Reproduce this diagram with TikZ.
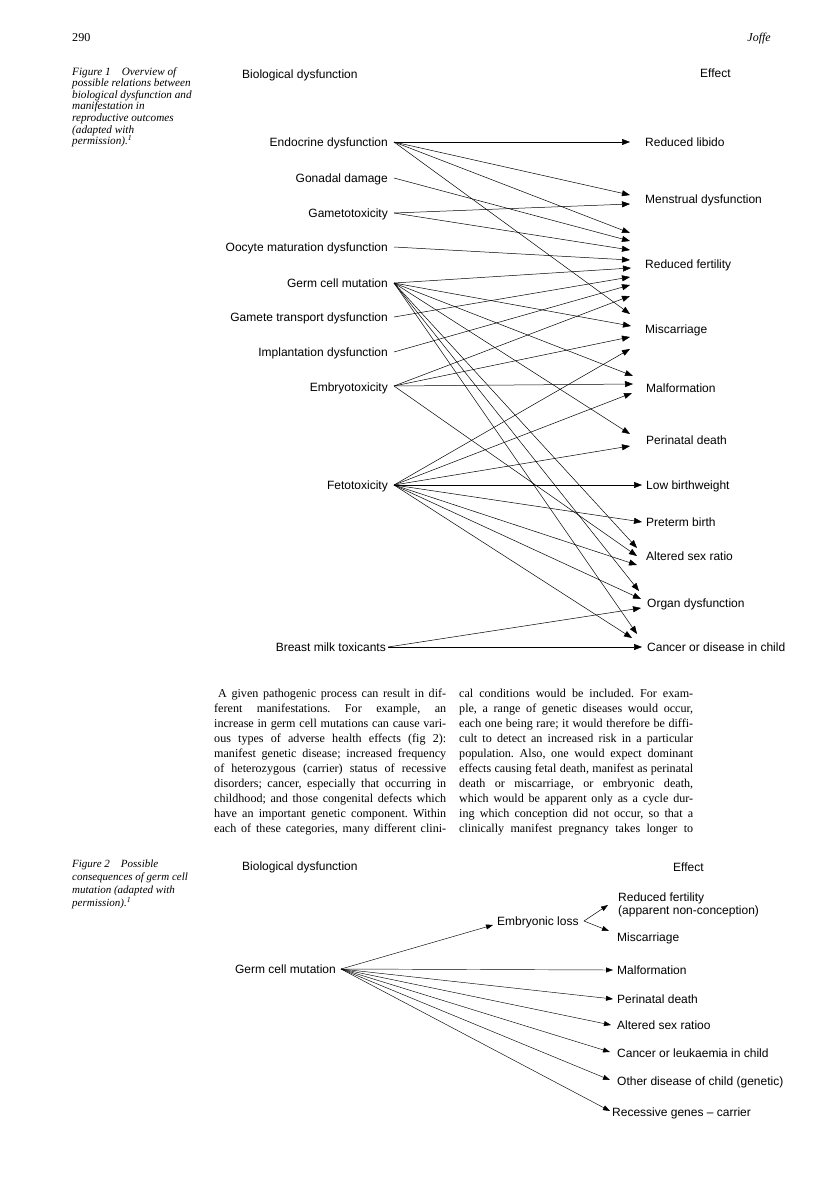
\documentclass[tikz,border=0pt]{standalone}
\usepackage{fontspec}
\setmainfont{Liberation Serif}
\newfontfamily\labfont{Liberation Sans}
\usetikzlibrary{arrows.meta}
\frenchspacing
\begin{document}
\begin{tikzpicture}[x=1pt,y=-1pt,
  lbl/.style={font=\labfont\fontsize{12}{14}\selectfont, inner sep=0pt},
  src/.style={lbl, anchor=base east},
  tgt/.style={lbl, anchor=base west},
  hdr/.style={lbl, anchor=base west},
  arr/.style={line width=0.5pt, -{Triangle[length=8pt,width=6pt]}},
  arrb/.style={line width=0.45pt, -{Triangle[length=7pt,width=5pt]}},
  body/.style={font=\fontsize{12.1}{15}\selectfont, inner sep=0pt, anchor=base west},
  capt/.style={font=\fontsize{11.2}{11.6}\selectfont\itshape, inner sep=0pt, anchor=north west, align=left},
]
\useasboundingbox (0,0) rectangle (816,1191);

% page header
\node[body] (pg) at (72,41) {290};
\node[font=\fontsize{12}{14}\selectfont\itshape, inner sep=0pt, anchor=base east] (au) at (771,41) {Joffe};

% ---------------- Figure 1 ----------------
\node[capt] (cap1) at (72,67) {Figure 1\quad Overview of\\possible relations between\\biological dysfunction and\\manifestation in\\reproductive outcomes\\(adapted with\\permission).\textsuperscript{1}};

\node[hdr] (h1a) at (242,78) {Biological dysfunction};
\node[hdr] (h1b) at (700,77) {Effect};

% sources
\node[src] (endo) at (388,146) {Endocrine dysfunction};
\node[src] (gona) at (388,182) {Gonadal damage};
\node[src] (game) at (388,217) {Gametotoxicity};
\node[src] (oocy) at (388,251) {Oocyte maturation dysfunction};
\node[src] (germ) at (388,287) {Germ cell mutation};
\node[src] (gtra) at (388,321) {Gamete transport dysfunction};
\node[src] (impl) at (388,356) {Implantation dysfunction};
\node[src] (embr) at (388,391) {Embryotoxicity};
\node[src] (feto) at (388,489) {Fetotoxicity};
\node[src] (brea) at (386,651) {Breast milk toxicants};

\coordinate (endo-o) at (394,142);
\coordinate (gona-o) at (394,178);
\coordinate (game-o) at (394,213);
\coordinate (oocy-o) at (394,247);
\coordinate (germ-o) at (394,283);
\coordinate (gtra-o) at (394,317);
\coordinate (impl-o) at (394,352);
\coordinate (embr-o) at (394,386);
\coordinate (feto-o) at (394,485);
\coordinate (brea-o) at (388,647);

% targets
\node[tgt] (lib) at (645,146) {Reduced libido};
\node[tgt] (men) at (645,203) {Menstrual dysfunction};
\node[tgt] (rf)  at (645,268) {Reduced fertility};
\node[tgt] (mis) at (645,333) {Miscarriage};
\node[tgt] (mal) at (646,392) {Malformation};
\node[tgt] (per) at (646,444) {Perinatal death};
\node[tgt] (low) at (646,489) {Low birthweight};
\node[tgt] (pre) at (646,526) {Preterm birth};
\node[tgt] (alt) at (646,560) {Altered sex ratio};
\node[tgt] (org) at (647,607) {Organ dysfunction};
\node[tgt] (can) at (647,651) {Cancer or disease in child};

% arrow tips
\coordinate (lib1) at (630,142);
\coordinate (men1) at (630,195);
\coordinate (men2) at (630,204);
\coordinate (rf1) at (630,233);
\coordinate (rf2) at (630,241);
\coordinate (rf3) at (630,250);
\coordinate (rf4) at (630,260);
\coordinate (rf5) at (631,268);
\coordinate (rf6) at (630,277);
\coordinate (rf7) at (630,285);
\coordinate (rf8) at (630,296);
\coordinate (mis1) at (630,314);
\coordinate (mis2) at (631,326);
\coordinate (mis3) at (630,337);
\coordinate (mis4) at (630,349);
\coordinate (mal1) at (633,376);
\coordinate (mal2) at (633,384);
\coordinate (mal3) at (632,393);
\coordinate (per1) at (630,434);
\coordinate (per2) at (630,446);
\coordinate (low1) at (642,485);
\coordinate (pre1) at (642,522);
\coordinate (alt1) at (637,548);
\coordinate (alt2) at (637,556);
\coordinate (alt3) at (637,565);
\coordinate (org1) at (639,591);
\coordinate (org2) at (641,599);
\coordinate (org3) at (641,608);
\coordinate (can1) at (637,634);
\coordinate (can2) at (632,638);
\coordinate (can3) at (642,647);

\draw[arr] (endo-o) -- (lib1);
\draw[arr] (endo-o) -- (men1);
\draw[arr] (endo-o) -- (rf1);
\draw[arr] (endo-o) -- (mis1);
\draw[arr] (gona-o) -- (rf2);
\draw[arr] (game-o) -- (men2);
\draw[arr] (game-o) -- (rf3);
\draw[arr] (oocy-o) -- (rf4);
\draw[arr] (germ-o) -- (rf5);
\draw[arr] (gtra-o) -- (rf6);
\draw[arr] (impl-o) -- (rf7);
\draw[arr] (embr-o) -- (rf8);
\draw[arr] (germ-o) -- (mis2);
\draw[arr] (embr-o) -- (mis3);
\draw[arr] (feto-o) -- (mis4);
\draw[arr] (germ-o) -- (mal1);
\draw[arr] (embr-o) -- (mal2);
\draw[arr] (feto-o) -- (mal3);
\draw[arr] (germ-o) -- (per1);
\draw[arr] (feto-o) -- (per2);
\draw[arr] (feto-o) -- (low1);
\draw[arr] (feto-o) -- (pre1);
\draw[arr] (germ-o) -- (alt1);
\draw[arr] (embr-o) -- (alt2);
\draw[arr] (feto-o) -- (alt3);
\draw[arr] (germ-o) -- (org1);
\draw[arr] (feto-o) -- (org2);
\draw[arr] (brea-o) -- (org3);
\draw[arr] (germ-o) -- (can1);
\draw[arr] (feto-o) -- (can2);
\draw[arr] (brea-o) -- (can3);

% ---------------- Body text ----------------
\node[body] (l1) at (214,697) {\makebox[232pt][s]{\hspace{4pt}A given pathogenic process can result in dif-}};
\node[body] (l2) at (214,712) {\makebox[232pt][s]{ferent manifestations. For example, an}};
\node[body] (l3) at (214,727) {\makebox[232pt][s]{increase in germ cell mutations can cause vari-}};
\node[body] (l4) at (214,742) {\makebox[232pt][s]{ous types of adverse health effects (fig 2):}};
\node[body] (l5) at (214,757) {\makebox[232pt][s]{manifest genetic disease; increased frequency}};
\node[body] (l6) at (214,772) {\makebox[232pt][s]{of heterozygous (carrier) status of recessive}};
\node[body] (l7) at (214,787) {\makebox[232pt][s]{disorders; cancer, especially that occurring in}};
\node[body] (l8) at (214,802) {\makebox[232pt][s]{childhood; and those congenital defects which}};
\node[body] (l9) at (214,817) {\makebox[232pt][s]{have an important genetic component. Within}};
\node[body] (l10) at (214,832) {\makebox[232pt][s]{each of these categories, many different clini-}};

\node[body] (r1) at (459,697) {\makebox[234pt][s]{cal conditions would be included. For exam-}};
\node[body] (r2) at (459,712) {\makebox[234pt][s]{ple, a range of genetic diseases would occur,}};
\node[body] (r3) at (459,727) {\makebox[234pt][s]{each one being rare; it would therefore be diffi-}};
\node[body] (r4) at (459,742) {\makebox[234pt][s]{cult to detect an increased risk in a particular}};
\node[body] (r5) at (459,757) {\makebox[234pt][s]{population. Also, one would expect dominant}};
\node[body] (r6) at (459,772) {\makebox[234pt][s]{effects causing fetal death, manifest as perinatal}};
\node[body] (r7) at (459,787) {\makebox[234pt][s]{death or miscarriage, or embryonic death,}};
\node[body] (r8) at (459,802) {\makebox[234pt][s]{which would be apparent only as a cycle dur-}};
\node[body] (r9) at (459,817) {\makebox[234pt][s]{ing which conception did not occur, so that a}};
\node[body] (r10) at (459,832) {\makebox[234pt][s]{clinically manifest pregnancy takes longer to}};

% ---------------- Figure 2 ----------------
\node[capt, font=\fontsize{11}{13}\selectfont\itshape] (cap2) at (72,860) {Figure 2\quad Possible\\consequences of germ cell\\mutation (adapted with\\permission).\textsuperscript{1}};

\node[hdr] (h2a) at (242,870) {Biological dysfunction};
\node[hdr] (h2b) at (673,871) {Effect};

\node[src] (g2) at (336,973) {Germ cell mutation};
\coordinate (g2-o) at (341,969);
\node[tgt] (eml) at (497,925) {Embryonic loss};
\coordinate (eml-i) at (493,925);
\coordinate (eml-o) at (584,921);

\node[tgt, align=left, anchor=north west, font=\labfont\fontsize{12}{13}\selectfont] (rf2b) at (618,893) {Reduced fertility\\(apparent non-conception)};
\node[tgt] (mis2b) at (617,941) {Miscarriage};
\node[tgt] (mal2b) at (617,974) {Malformation};
\node[tgt] (per2b) at (617,1003) {Perinatal death};
\node[tgt] (alt2b) at (617,1029) {Altered sex ratioo};
\node[tgt] (can2b) at (617,1057) {Cancer or leukaemia in child};
\node[tgt] (oth2b) at (617,1085) {Other disease of child (genetic)};
\node[tgt] (rec2b) at (612,1116) {Recessive genes – carrier};

\coordinate (rf2t) at (608,905);
\coordinate (mis2t) at (609,931);
\coordinate (mal2t) at (613,970);
\coordinate (per2t) at (613,999);
\coordinate (alt2t) at (611,1025);
\coordinate (can2t) at (610,1052);
\coordinate (oth2t) at (610,1080);
\coordinate (rec2t) at (610,1111);

\draw[arrb] (g2-o) -- (eml-i);
\draw[arrb] (eml-o) -- (rf2t);
\draw[arrb] (eml-o) -- (mis2t);
\draw[arrb] (g2-o) -- (mal2t);
\draw[arrb] (g2-o) -- (per2t);
\draw[arrb] (g2-o) -- (alt2t);
\draw[arrb] (g2-o) -- (can2t);
\draw[arrb] (g2-o) -- (oth2t);
\draw[arrb] (g2-o) -- (rec2t);
\end{tikzpicture}
\end{document}
